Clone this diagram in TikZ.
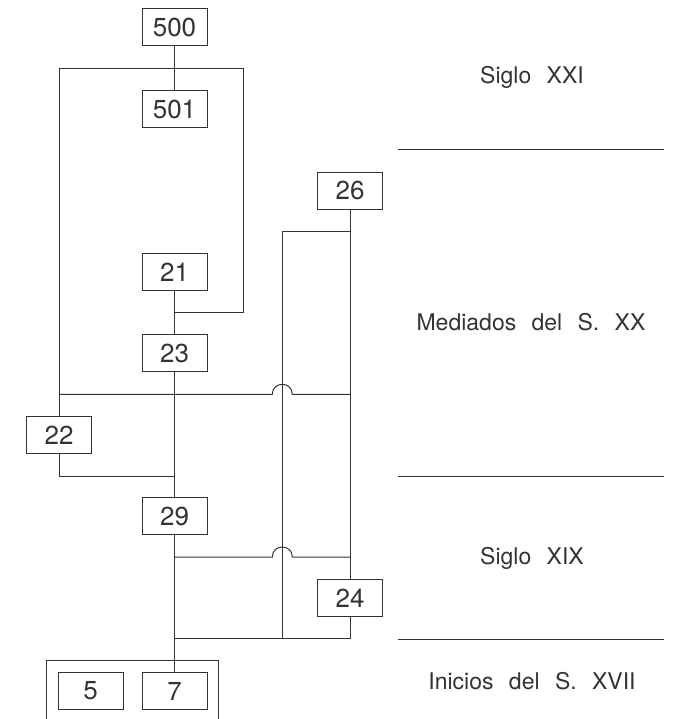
\documentclass[tikz,border=0pt]{standalone}
\usepackage{fontspec}
\setmainfont{TeX Gyre Heros}[WordSpace=2.4]
\usetikzlibrary{calc}
\tikzset{
  ue/.style={draw,minimum width=65pt,minimum height=37pt,inner sep=0pt,font=\fontsize{26}{26}\selectfont},
  epoca/.style={anchor=base,inner sep=0pt,font=\fontsize{23}{23}\selectfont},
}
\begin{document}
\begin{tikzpicture}[x=1pt,y=-1pt,line width=1pt,black!80]
\useasboundingbox (0,0) rectangle (684,719);
% unidades
\node[ue](n500)at(174.5,27.5){500};
\node[ue](n501)at(174.5,109){501};
\node[ue](n21)at(174.5,272){21};
\node[ue](n23)at(174.5,353.3){23};
\node[ue](n22)at(59,435.3){22};
\node[ue](n29)at(174.5,516.3){29};
\node[ue](n26)at(350,190.7){26};
\node[ue](n24)at(350,598){24};
\node[ue](n5)at(90.5,691){5};
\node[ue](n7)at(174.5,691){7};
%
\coordinate(fTop)at(243.3,68.7);
\coordinate(fE)at(0,231.3);
\coordinate(f21)at(0,312.7);
\coordinate(fA)at(0,394.3);
\coordinate(fB)at(0,476);
\coordinate(fC)at(0,557);
\coordinate(fD)at(0,638);
\coordinate(cJ)at(282.3,0);
%
\draw(n500)--(n501);
\draw(n21)--(n23);
\draw(n23)--(n29);
\draw(n29)--(n7);
\draw(n26)--(n24);
\draw(n22.north)|-(fTop)|-(n21|-f21);
\draw(n22|-fA)--($(cJ|-fA)+(-10,0)$)..controls +(0,-13.3) and +(0,-13.3)..($(cJ|-fA)+(10,0)$)--(n26|-fA);
\draw(n22.south)|-(n29|-fB);
\draw(n29|-fC)--($(cJ|-fC)+(-10,0)$)..controls +(0,-13.3) and +(0,-13.3)..($(cJ|-fC)+(10,0)$)--(n24|-fC);
\draw(n24.south)|-(n7|-fD);
\draw(n26|-fE)-|(cJ|-fD);
\draw(46.7,719)|-(218,660.7)--(218,719);
%
\foreach \y in {150,476,639}
  \draw(398.3,\y)--(664.3,\y);
\node[epoca](sXXI)at(532,83.3){Siglo XXI};
\node[epoca](sXX)at(531,330.7){Mediados del S. XX};
\node[epoca](sXIX)at(532,564){Siglo XIX};
\node[epoca](sXVII)at(532,689){Inicios del S. XVII};
\end{tikzpicture}
\end{document}
